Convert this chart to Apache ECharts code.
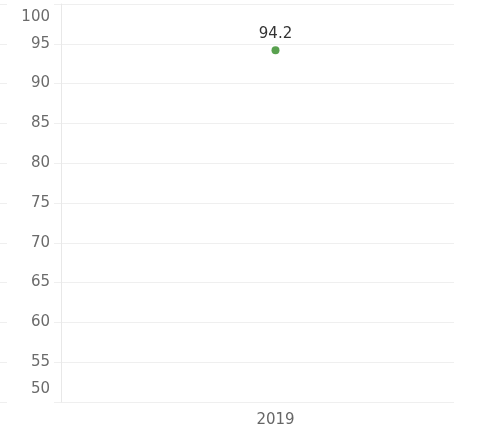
<!DOCTYPE html>
<html lang="en">
<head>
    <meta charset="UTF-8">
    <title>Chart</title>
</head>
<body style="margin:0;background:#fff">
<div id="main" style="height: 433px;width: 479px"></div>
<script src="https://cdn.jsdelivr.net/npm/echarts@6.0.0/dist/echarts.min.js"></script>
<script>
    var years = ['2019'];
    var values = [94.2];
    var yTicks = [50, 55, 60, 65, 70, 75, 80, 85, 90, 95, 100];

    var gridColor = '#efefef';
    var font = 'DejaVu Sans';

    function initEcharts() {
        var myChart = echarts.init(document.getElementById('main'));
        var x0 = Number(years[0]);
        var option = {
            animation: false,
            grid: {left: 61, right: 25, top: 4, bottom: 31},
            xAxis: {
                type: 'value',
                min: x0 - 0.5458,
                max: x0 + 0.4542,
                splitLine: {show: false},
                axisLine: {show: false},
                axisTick: {show: false},
                axisLabel: {
                    customValues: years.map(Number),
                    formatter: function (v) { return String(v); },
                    color: '#666', fontSize: 15, fontFamily: font, margin: 11
                }
            },
            yAxis: [{
                type: 'value',
                min: yTicks[0],
                max: yTicks[yTicks.length - 1],
                interval: 5,
                axisLine: {show: true, lineStyle: {color: '#e8e8e8'}},
                axisTick: {show: true, length: 7, lineStyle: {color: gridColor}},
                splitLine: {lineStyle: {color: gridColor}},
                axisLabel: {
                    color: '#6b6b6b', fontSize: 15, fontFamily: font, margin: 11,
                    lineHeight: 26,
                    showMinLabel: true,
                    showMaxLabel: true,
                    verticalAlignMinLabel: 'bottom',
                    verticalAlignMaxLabel: 'top'
                }
            }, {
                type: 'value',
                position: 'left',
                offset: 54,
                min: yTicks[0],
                max: yTicks[yTicks.length - 1],
                interval: 5,
                axisLine: {show: false},
                axisTick: {show: true, length: 7, lineStyle: {color: gridColor}},
                splitLine: {show: false},
                axisLabel: {show: false}
            }],
            series: [{
                type: 'scatter',
                data: years.map(function (y, i) { return [Number(y), values[i]]; }),
                symbolSize: 8,
                itemStyle: {color: '#59A14F', opacity: 1},
                label: {
                    show: true,
                    position: 'top',
                    distance: 5,
                    color: '#333',
                    fontSize: 15,
                    fontFamily: font,
                    formatter: function (p) { return p.value[1].toFixed(1); }
                }
            }]
        };
        myChart.setOption(option);
    }

    initEcharts();
</script>
</body>
</html>
